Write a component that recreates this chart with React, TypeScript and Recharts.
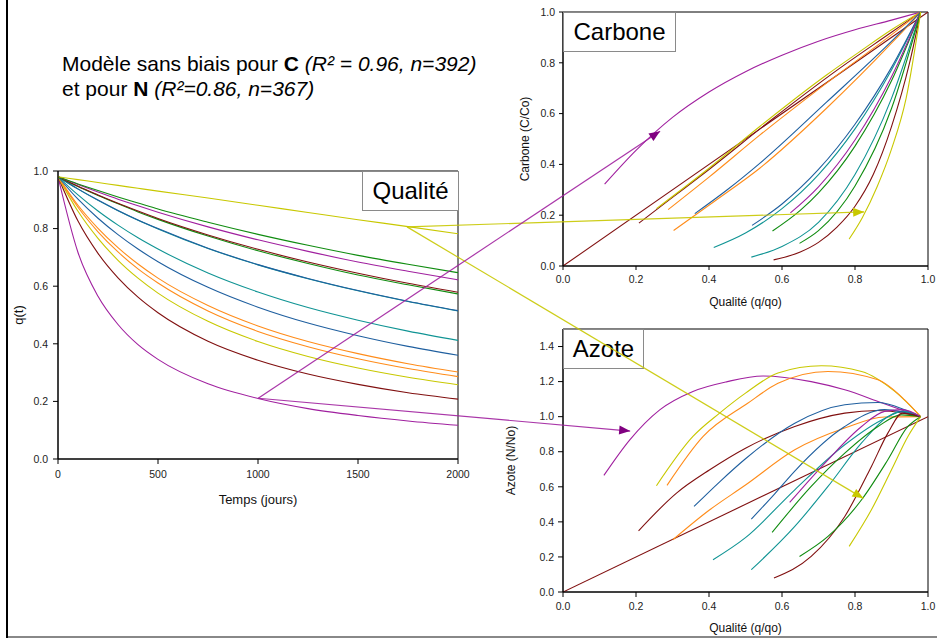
import React from 'react';
import { LineChart, ComposedChart, Line, XAxis, YAxis, ReferenceArea } from 'recharts';

const FONT = '"Liberation Sans", Arial, Helvetica, sans-serif';

const PURPLE = '#a0209f';
const DARKRED = '#801010';
const YELLOW = '#c8c800';
const ORANGE = '#ff8c1a';
const GREEN = '#108c10';
const TEAL = '#109494';
const BLUE = '#1f5f9f';

// time axis of the quality panel (days)
const DAYS = [0, 100, 200, 300, 400, 500, 750, 1000, 1250, 1500, 1750, 2000];

// q(t) read at DAYS, one array per litter
const Q_PURPLE_A = [0.98, 0.717, 0.565, 0.467, 0.397, 0.346, 0.261, 0.21, 0.175, 0.151, 0.132, 0.117];
const Q_DARKRED_A = [0.98, 0.826, 0.714, 0.629, 0.562, 0.508, 0.409, 0.343, 0.295, 0.259, 0.23, 0.208];
const Q_YELLOW_A = [0.98, 0.86, 0.766, 0.69, 0.628, 0.576, 0.478, 0.408, 0.356, 0.316, 0.284, 0.258];
const Q_ORANGE_A = [0.98, 0.874, 0.789, 0.719, 0.66, 0.611, 0.514, 0.443, 0.39, 0.348, 0.314, 0.286];
const Q_ORANGE_B = [0.98, 0.881, 0.801, 0.734, 0.677, 0.628, 0.533, 0.462, 0.408, 0.366, 0.331, 0.302];
const Q_BLUE_A = [0.98, 0.902, 0.836, 0.779, 0.729, 0.685, 0.596, 0.527, 0.472, 0.428, 0.391, 0.36];
const Q_TEAL_A = [0.98, 0.917, 0.861, 0.812, 0.768, 0.729, 0.646, 0.58, 0.526, 0.482, 0.444, 0.412];
const Q_BLUE_B = [0.98, 0.938, 0.899, 0.863, 0.83, 0.8, 0.732, 0.675, 0.627, 0.585, 0.548, 0.515];
const Q_TEAL_B = [0.98, 0.937, 0.898, 0.862, 0.829, 0.799, 0.731, 0.674, 0.626, 0.584, 0.547, 0.514];
const Q_GREEN_A = [0.98, 0.946, 0.915, 0.886, 0.858, 0.832, 0.774, 0.723, 0.679, 0.639, 0.605, 0.573];
const Q_DARKRED_B = [0.98, 0.947, 0.917, 0.888, 0.861, 0.835, 0.778, 0.728, 0.684, 0.645, 0.61, 0.579];
const Q_PURPLE_B = [0.98, 0.953, 0.927, 0.902, 0.879, 0.857, 0.806, 0.761, 0.721, 0.684, 0.652, 0.622];
const Q_GREEN_B = [0.98, 0.955, 0.932, 0.91, 0.889, 0.868, 0.822, 0.78, 0.742, 0.707, 0.676, 0.647];
const Q_YELLOW_B = [0.98, 0.97, 0.96, 0.95, 0.94, 0.93, 0.906, 0.881, 0.856, 0.831, 0.807, 0.782];

type Pt = [number, number];

// carbone (C/Co) against quality (q/qo)
const C_PURPLE_A: Pt[] = [[0.114, 0.322], [0.2, 0.455], [0.3, 0.585], [0.4, 0.685], [0.5, 0.765], [0.6, 0.83], [0.7, 0.885], [0.8, 0.93], [0.9, 0.968], [0.98, 1.0]];
const C_DARKRED_A: Pt[] = [[0.208, 0.169], [0.3, 0.27], [0.4, 0.38], [0.566, 0.57], [0.75, 0.77], [0.9, 0.92], [0.98, 1.0]];
const C_YELLOW_A: Pt[] = [[0.256, 0.226], [0.4, 0.385], [0.539, 0.549], [0.722, 0.752], [0.813, 0.844], [0.9, 0.93], [0.98, 1.0]];
const C_ORANGE_A: Pt[] = [[0.288, 0.222], [0.4, 0.35], [0.539, 0.515], [0.722, 0.72], [0.904, 0.915], [0.98, 1.0]];
const C_ORANGE_B: Pt[] = [[0.303, 0.14], [0.42, 0.26], [0.539, 0.385], [0.722, 0.621], [0.904, 0.883], [0.98, 1.0]];
const C_BLUE_A: Pt[] = [[0.361, 0.206], [0.45, 0.3], [0.539, 0.404], [0.722, 0.645], [0.904, 0.89], [0.98, 1.0]];
const C_TEAL_A: Pt[] = [[0.413, 0.073], [0.5, 0.13], [0.6, 0.226], [0.7, 0.36], [0.8, 0.54], [0.9, 0.772], [0.98, 1.0]];
const C_BLUE_B: Pt[] = [[0.518, 0.16], [0.6, 0.244], [0.7, 0.38], [0.8, 0.558], [0.9, 0.782], [0.98, 1.0]];
const C_TEAL_B: Pt[] = [[0.516, 0.035], [0.6, 0.077], [0.7, 0.172], [0.8, 0.36], [0.9, 0.66], [0.98, 1.0]];
const C_GREEN_A: Pt[] = [[0.574, 0.138], [0.65, 0.219], [0.7, 0.288], [0.8, 0.472], [0.9, 0.729], [0.98, 1.0]];
const C_DARKRED_B: Pt[] = [[0.577, 0.024], [0.65, 0.055], [0.7, 0.093], [0.75, 0.152], [0.8, 0.235], [0.85, 0.36], [0.9, 0.549], [0.95, 0.803], [0.98, 1.0]];
const C_PURPLE_B: Pt[] = [[0.623, 0.209], [0.7, 0.312], [0.8, 0.496], [0.9, 0.745], [0.98, 1.0]];
const C_GREEN_B: Pt[] = [[0.648, 0.089], [0.7, 0.139], [0.8, 0.315], [0.9, 0.62], [0.98, 1.0]];
const C_YELLOW_B: Pt[] = [[0.784, 0.106], [0.82, 0.19], [0.86, 0.31], [0.9, 0.46], [0.94, 0.66], [0.98, 1.0]];

// azote (N/No) against quality (q/qo)
const N_PURPLE_A: Pt[] = [[0.112, 0.665], [0.183, 0.868], [0.265, 1.039], [0.356, 1.144], [0.45, 1.2], [0.548, 1.232], [0.68, 1.2], [0.772, 1.153], [0.863, 1.087], [0.98, 1.0]];
const N_DARKRED_A: Pt[] = [[0.207, 0.349], [0.311, 0.564], [0.402, 0.697], [0.5, 0.82], [0.635, 0.944], [0.772, 1.02], [0.863, 1.035], [0.98, 1.0]];
const N_YELLOW_A: Pt[] = [[0.256, 0.606], [0.356, 0.887], [0.429, 1.02], [0.5, 1.134], [0.589, 1.249], [0.708, 1.29], [0.818, 1.258], [0.909, 1.144], [0.98, 1.0]];
const N_ORANGE_A: Pt[] = [[0.285, 0.608], [0.384, 0.887], [0.505, 1.075], [0.589, 1.19], [0.726, 1.258], [0.863, 1.21], [0.936, 1.096], [0.98, 1.0]];
const N_ORANGE_B: Pt[] = [[0.301, 0.298], [0.402, 0.469], [0.5, 0.61], [0.635, 0.811], [0.772, 0.935], [0.881, 0.998], [0.98, 1.0]];
const N_BLUE_A: Pt[] = [[0.359, 0.488], [0.43, 0.63], [0.5, 0.76], [0.635, 0.963], [0.772, 1.068], [0.863, 1.081], [0.936, 1.04], [0.98, 1.0]];
const N_TEAL_A: Pt[] = [[0.411, 0.184], [0.5, 0.31], [0.635, 0.583], [0.772, 0.84], [0.881, 0.99], [0.93, 1.03], [0.98, 1.0]];
const N_BLUE_B: Pt[] = [[0.516, 0.416], [0.58, 0.56], [0.635, 0.69], [0.772, 0.944], [0.881, 1.04], [0.98, 1.0]];
const N_TEAL_B: Pt[] = [[0.516, 0.127], [0.635, 0.374], [0.726, 0.602], [0.818, 0.85], [0.89, 1.0], [0.93, 1.03], [0.98, 1.0]];
const N_GREEN_A: Pt[] = [[0.573, 0.34], [0.68, 0.602], [0.772, 0.792], [0.863, 0.944], [0.927, 1.01], [0.98, 1.0]];
const N_DARKRED_B: Pt[] = [[0.578, 0.08], [0.68, 0.203], [0.772, 0.431], [0.845, 0.716], [0.89, 0.906], [0.93, 1.02], [0.98, 1.0]];
const N_PURPLE_B: Pt[] = [[0.621, 0.511], [0.726, 0.754], [0.818, 0.944], [0.881, 1.03], [0.93, 1.04], [0.98, 1.0]];
const N_GREEN_B: Pt[] = [[0.648, 0.203], [0.726, 0.317], [0.818, 0.526], [0.89, 0.754], [0.945, 0.944], [0.98, 1.0]];
const N_YELLOW_B: Pt[] = [[0.784, 0.26], [0.845, 0.469], [0.9, 0.697], [0.945, 0.887], [0.98, 1.0]];

// 1:1 line on both right panels
const DIAGONAL: Pt[] = [[0, 0], [1, 1]];

// arrows: origin on the quality panel, tips on carbone / azote panels
const YELLOW_ORIGIN: Pt = [1745, 0.806];
const YELLOW_TIP_C: Pt = [0.825, 0.213];
const YELLOW_TIP_N: Pt = [0.823, 0.534];
const PURPLE_ORIGIN: Pt = [1001, 0.211];
const PURPLE_TIP_C: Pt = [0.266, 0.531];
const PURPLE_TIP_N: Pt = [0.184, 0.918];

const Q_X_TICKS = [0, 500, 1000, 1500, 2000];
const UNIT_TICKS = [0, 0.2, 0.4, 0.6, 0.8, 1.0];
const N_Y_TICKS = [0, 0.2, 0.4, 0.6, 0.8, 1.0, 1.2, 1.4];

const SERIES = [
  { key: 'purpleA', color: PURPLE, q: Q_PURPLE_A, c: C_PURPLE_A, n: N_PURPLE_A },
  { key: 'darkredA', color: DARKRED, q: Q_DARKRED_A, c: C_DARKRED_A, n: N_DARKRED_A },
  { key: 'yellowA', color: YELLOW, q: Q_YELLOW_A, c: C_YELLOW_A, n: N_YELLOW_A },
  { key: 'orangeA', color: ORANGE, q: Q_ORANGE_A, c: C_ORANGE_A, n: N_ORANGE_A },
  { key: 'orangeB', color: ORANGE, q: Q_ORANGE_B, c: C_ORANGE_B, n: N_ORANGE_B },
  { key: 'blueA', color: BLUE, q: Q_BLUE_A, c: C_BLUE_A, n: N_BLUE_A },
  { key: 'tealA', color: TEAL, q: Q_TEAL_A, c: C_TEAL_A, n: N_TEAL_A },
  { key: 'tealB', color: TEAL, q: Q_TEAL_B, c: C_TEAL_B, n: N_TEAL_B },
  { key: 'blueB', color: BLUE, q: Q_BLUE_B, c: C_BLUE_B, n: N_BLUE_B },
  { key: 'greenA', color: GREEN, q: Q_GREEN_A, c: C_GREEN_A, n: N_GREEN_A },
  { key: 'darkredB', color: DARKRED, q: Q_DARKRED_B, c: C_DARKRED_B, n: N_DARKRED_B },
  { key: 'purpleB', color: PURPLE, q: Q_PURPLE_B, c: C_PURPLE_B, n: N_PURPLE_B },
  { key: 'greenB', color: GREEN, q: Q_GREEN_B, c: C_GREEN_B, n: N_GREEN_B },
  { key: 'yellowB', color: YELLOW, q: Q_YELLOW_B, c: C_YELLOW_B, n: N_YELLOW_B },
];

type Plot = { left: number; top: number; width: number; height: number; xMax: number; yMax: number };

// plot areas in page pixels
const QPLOT: Plot = { left: 58, top: 171, width: 400, height: 288, xMax: 2000, yMax: 1 };
const CPLOT: Plot = { left: 563, top: 12, width: 365, height: 254, xMax: 1, yMax: 1 };
const NPLOT: Plot = { left: 563, top: 329, width: 365, height: 263, xMax: 1, yMax: 1.5 };

const toPage = (p: Plot, [x, y]: Pt) => ({
  x: p.left + (x / p.xMax) * p.width,
  y: p.top + p.height - (y / p.yMax) * p.height,
});

type XY = { x: number; y: number };
type Series = { key: string; color: string; points: XY[] };

const fromDays = (vals: number[]): XY[] => DAYS.map((t, i) => ({ x: t, y: vals[i] }));
const fromPairs = (pts: Pt[]): XY[] => pts.map(([x, y]) => ({ x, y }));

interface PanelProps {
  plot: Plot;
  wrapLeft: number;
  marginRight: number;
  xTicks: number[];
  yTicks: number[];
  xFormat: (v: number) => string;
  xTitle: string;
  yTitle: string;
  yTitleX: number;
  xTitleBaseline: number;
  titleSize: number;
  tickSize: number;
  xTickMargin: number;
  yTickMargin: number;
  lines: Series[];
}

function Panel(props: PanelProps) {
  const { plot, wrapLeft, marginRight, lines } = props;
  const top = 10;
  const yAxisW = plot.left - wrapLeft;
  const xAxisH = props.xTitleBaseline + 4 - (plot.top + plot.height);
  const width = yAxisW + plot.width + marginRight;
  const height = top + plot.height + xAxisH;
  const tick = { fontSize: 10.5, fill: '#222', fontFamily: FONT };

  return (
    <div style={{ position: 'absolute', left: wrapLeft, top: plot.top - top }}>
      <LineChart width={width} height={height} margin={{ top, right: marginRight, bottom: 0, left: 0 }}>
        <XAxis
          type="number"
          dataKey="x"
          domain={[0, plot.xMax]}
          ticks={props.xTicks}
          tickFormatter={props.xFormat}
          allowDataOverflow
          height={xAxisH}
          tickSize={props.tickSize}
          tickMargin={props.xTickMargin}
          axisLine={{ stroke: '#000' }}
          tickLine={{ stroke: '#000' }}
          tick={tick}
          label={{ value: props.xTitle, position: 'insideBottom', offset: 4, fontSize: props.titleSize, fill: '#111', fontFamily: FONT }}
        />
        <YAxis
          type="number"
          domain={[0, plot.yMax]}
          ticks={props.yTicks}
          tickFormatter={(v: number) => v.toFixed(1)}
          allowDataOverflow
          width={yAxisW}
          tickSize={props.tickSize}
          tickMargin={props.yTickMargin}
          axisLine={{ stroke: '#000' }}
          tickLine={{ stroke: '#000' }}
          tick={tick}
          label={{
            value: props.yTitle,
            angle: -90,
            position: 'insideLeft',
            offset: props.yTitleX - wrapLeft,
            textAnchor: 'middle',
            fontSize: props.titleSize,
            fill: '#111',
            fontFamily: FONT,
          }}
        />
        <ReferenceArea x1={0} x2={plot.xMax} y1={0} y2={plot.yMax} fill="none" stroke="#000" strokeWidth={1} />
        {lines.map((l) => (
          <Line
            key={l.key}
            data={l.points}
            dataKey="y"
            type="monotone"
            stroke={l.color}
            strokeWidth={1.1}
            dot={false}
            activeDot={false}
            isAnimationActive={false}
          />
        ))}
      </LineChart>
    </div>
  );
}

function TitleBox({ text, left, top, width }: { text: string; left: number; top: number; width: number }) {
  return (
    <div
      style={{
        position: 'absolute',
        left,
        top,
        width,
        height: 40,
        boxSizing: 'border-box',
        border: '1px solid #8a8a8a',
        background: '#fff',
        display: 'flex',
        alignItems: 'center',
        justifyContent: 'center',
        fontSize: 24,
        color: '#000',
      }}
    >
      {text}
    </div>
  );
}

const ARROWS = [
  { key: 'yc', color: YELLOW, head: YELLOW, from: toPage(QPLOT, YELLOW_ORIGIN), to: toPage(CPLOT, YELLOW_TIP_C) },
  { key: 'yn', color: YELLOW, head: YELLOW, from: toPage(QPLOT, YELLOW_ORIGIN), to: toPage(NPLOT, YELLOW_TIP_N) },
  { key: 'pc', color: PURPLE, head: '#800080', from: toPage(QPLOT, PURPLE_ORIGIN), to: toPage(CPLOT, PURPLE_TIP_C) },
  { key: 'pn', color: PURPLE, head: '#800080', from: toPage(QPLOT, PURPLE_ORIGIN), to: toPage(NPLOT, PURPLE_TIP_N) },
];

const arrowHead = (color: string, a: XY, b: XY) => (props: any) => {
  const { cx, cy, index } = props;
  if (index !== 1) return <g key={`n${index}`} />;
  const ang = Math.atan2(b.y - a.y, b.x - a.x);
  const c = Math.cos(ang);
  const s = Math.sin(ang);
  const bx = cx - 11 * c;
  const by = cy - 11 * s;
  const pts = `${cx},${cy} ${bx - 4.5 * s},${by + 4.5 * c} ${bx + 4.5 * s},${by - 4.5 * c}`;
  return <polygon key="head" points={pts} fill={color} stroke="none" />;
};

const PAGE_W = 937;
const PAGE_H = 638;

export default function App() {
  const qLines = SERIES.map((s) => ({ key: s.key, color: s.color, points: fromDays(s.q) }));
  const cLines = [
    { key: 'diag', color: DARKRED, points: fromPairs(DIAGONAL) },
    ...SERIES.map((s) => ({ key: s.key, color: s.color, points: fromPairs(s.c) })),
  ];
  const nLines = [
    { key: 'diag', color: DARKRED, points: fromPairs(DIAGONAL) },
    ...SERIES.map((s) => ({ key: s.key, color: s.color, points: fromPairs(s.n) })),
  ];
  const fmt1 = (v: number) => v.toFixed(1);

  return (
    <div style={{ position: 'relative', width: PAGE_W, height: PAGE_H, background: '#fff', overflow: 'hidden', fontFamily: FONT }}>
      <style>{'body{margin:0}'}</style>

      {/* page frame */}
      <div style={{ position: 'absolute', left: 6, top: 0, width: 2, height: PAGE_H, background: '#000' }} />
      <div style={{ position: 'absolute', left: 8, top: 636, width: PAGE_W - 8, height: 1.5, background: '#888' }} />

      <div style={{ position: 'absolute', left: 62, top: 51, fontSize: 21, lineHeight: '25px', color: '#000', whiteSpace: 'nowrap' }}>
        Modèle sans biais pour <b>C</b> <i>(R² = 0.96, n=392)</i>
        <br />
        et pour <b>N</b> <i>(R²=0.86, n=367)</i>
      </div>

      <Panel
        plot={QPLOT}
        wrapLeft={8}
        marginRight={16}
        xTicks={Q_X_TICKS}
        yTicks={UNIT_TICKS}
        xFormat={(v) => String(v)}
        xTitle="Temps (jours)"
        yTitle="q(t)"
        yTitleX={18}
        xTitleBaseline={503.5}
        titleSize={13}
        tickSize={5}
        xTickMargin={7}
        yTickMargin={5}
        lines={qLines}
      />
      <Panel
        plot={CPLOT}
        wrapLeft={500}
        marginRight={9}
        xTicks={UNIT_TICKS}
        yTicks={UNIT_TICKS}
        xFormat={fmt1}
        xTitle="Qualité (q/qo)"
        yTitle="Carbone (C/Co)"
        yTitleX={525}
        xTitleBaseline={305.5}
        titleSize={12}
        tickSize={4}
        xTickMargin={6}
        yTickMargin={4}
        lines={cLines}
      />
      <Panel
        plot={NPLOT}
        wrapLeft={500}
        marginRight={9}
        xTicks={UNIT_TICKS}
        yTicks={N_Y_TICKS}
        xFormat={fmt1}
        xTitle="Qualité (q/qo)"
        yTitle="Azote (N/No)"
        yTitleX={510.5}
        xTitleBaseline={632}
        titleSize={12}
        tickSize={5}
        xTickMargin={6}
        yTickMargin={4}
        lines={nLines}
      />

      <TitleBox text="Qualité" left={QPLOT.left + QPLOT.width - 96} top={QPLOT.top} width={97} />
      <TitleBox text="Carbone" left={CPLOT.left} top={CPLOT.top} width={113} />
      <TitleBox text="Azote" left={NPLOT.left} top={NPLOT.top} width={81} />

      {/* arrows linking the quality panel to the carbone and azote panels */}
      <div style={{ position: 'absolute', left: 0, top: 0, pointerEvents: 'none' }}>
        <ComposedChart width={PAGE_W} height={PAGE_H} margin={{ top: 0, right: 0, bottom: 0, left: 0 }}>
          <XAxis hide type="number" dataKey="x" domain={[0, PAGE_W]} allowDataOverflow />
          <YAxis hide type="number" domain={[0, PAGE_H]} reversed allowDataOverflow />
          {ARROWS.map((a) => (
            <Line
              key={a.key}
              data={[a.from, a.to]}
              dataKey="y"
              type="linear"
              stroke={a.color}
              strokeWidth={1.2}
              strokeOpacity={0.9}
              dot={arrowHead(a.head, a.from, a.to)}
              activeDot={false}
              isAnimationActive={false}
            />
          ))}
        </ComposedChart>
      </div>
    </div>
  );
}
